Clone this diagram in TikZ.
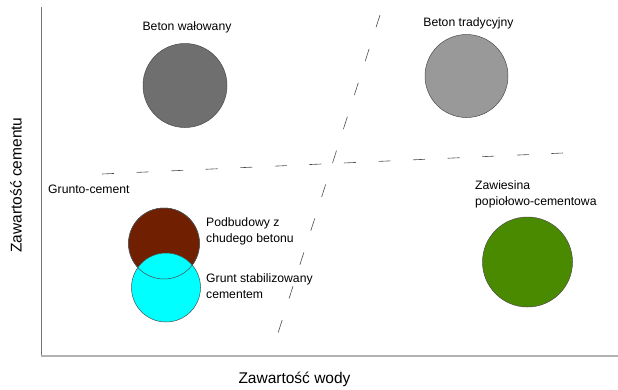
\documentclass[tikz,border=0pt]{standalone}
\usepackage{fontspec}
\setmainfont{Liberation Sans}
\begin{document}
\begin{tikzpicture}[x=1pt,y=-1pt,
  lbl/.style={inner sep=0pt,font=\fontsize{12.2}{16.5}\selectfont,align=left},
  axlbl/.style={inner sep=0pt,font=\fontsize{15.5}{18}\selectfont},
  blob/.style={circle,draw=black!70,line width=0.5pt,inner sep=0pt},
  divider/.style={draw=black!70,line width=0.6pt}]
\useasboundingbox (0,0) rectangle (618,389);
% axes
\coordinate (top) at (41,7);
\coordinate (corner) at (41,356);
\coordinate (right) at (618,356);
\draw[black!55,line width=1pt] (top) -- (corner);
\draw[black!30,line width=1.2pt] (corner) -- (right);
% dividers
\coordinate (h1) at (102,174);
\coordinate (h2) at (563,153);
\coordinate (d1) at (380,15);
\coordinate (d2) at (278,333);
\draw[divider,dash pattern=on 12pt off 22.6pt] (h1) -- (h2);
\draw[divider,dash pattern=on 13pt off 22.6pt] (d1) -- (d2);
% circles
\node[blob,fill={rgb,255:red,111;green,111;blue,111},minimum size=84pt] (bw) at (185,85.5) {};
\node[blob,fill={rgb,255:red,153;green,153;blue,153},minimum size=83pt] (bt) at (466.5,76) {};
\node[blob,fill={rgb,255:red,112;green,32;blue,0},minimum size=71pt] (pb) at (164,243.5) {};
\node[blob,fill={rgb,255:red,0;green,255;blue,255},minimum size=69pt] (gs) at (166,287.5) {};
\draw[black!70,line width=0.5pt] (pb.center) circle (35.5pt);
\node[blob,fill={rgb,255:red,74;green,138;blue,0},minimum size=90pt] (zc) at (527.5,262) {};
% labels
\node[lbl,anchor=base] (lbw) at (187,30) {Beton wałowany};
\node[lbl,anchor=base] (lbt) at (468.5,26) {Beton tradycyjny};
\node[lbl,anchor=base west] (lgc) at (48,193) {Grunto-cement};
\node[lbl,anchor=north west] (lpb) at (206,217) {Podbudowy z\\chudego betonu};
\node[lbl,anchor=north west] (lgs) at (206,273) {Grunt stabilizowany\\cementem};
\node[lbl,anchor=north west] (lzc) at (475,180) {Zawiesina\\popiołowo-cementowa};
\node[axlbl] (xl) at (294.5,379) {Zawartość wody};
\node[axlbl,rotate=90] (yl) at (16,185) {Zawartość cementu};
\end{tikzpicture}
\end{document}
